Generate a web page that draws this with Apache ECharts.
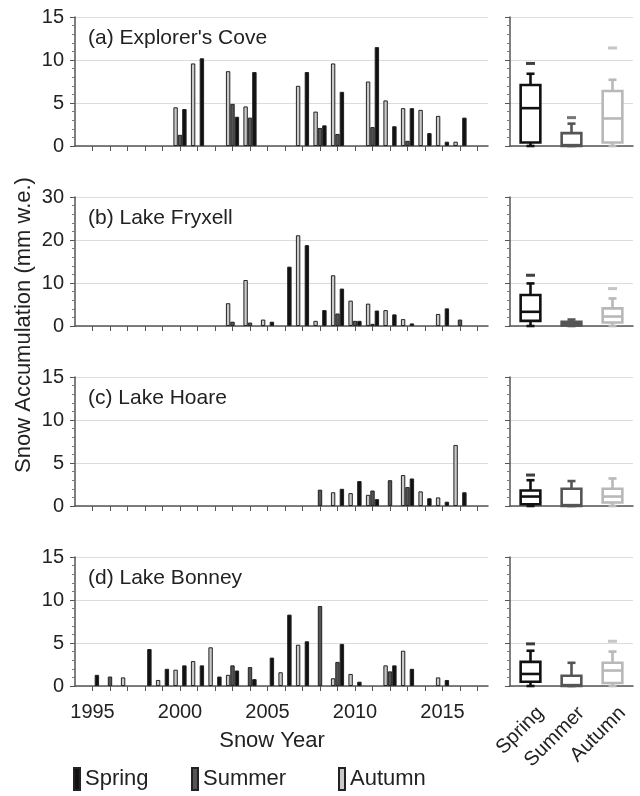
<!DOCTYPE html>
<html>
<head>
<meta charset="utf-8">
<script src="https://cdn.jsdelivr.net/npm/echarts@6/dist/echarts.min.js"></script>
<style>
  html, body { margin: 0; padding: 0; background: #fff; }
  #chart { width: 640px; height: 796px; }
</style>
</head>
<body>
<div id="chart"></div>
<script>
var years = [1995, 1996, 1997, 1998, 1999, 2000, 2001, 2002, 2003, 2004, 2005,
  2006, 2007, 2008, 2009, 2010, 2011, 2012, 2013, 2014, 2015, 2016];
var yearTicks = years.concat([2017]);
var yearLabels = [1995, 2000, 2005, 2010, 2015];
var seasons = ['Spring', 'Summer', 'Autumn'];
var sites = ["(a) Explorer's Cove", '(b) Lake Fryxell', '(c) Lake Hoare', '(d) Lake Bonney'];
var yMax = [15, 30, 15, 15];

// one value per snow year (1995 .. 2016), null = no data
var coveSpring = [null, null, null, null, null, 4.3, 10.2, null, 3.4, 8.6, null, null, 8.6, 2.4, 6.3, null, 11.5, 2.3, 4.4, 1.5, 0.5, 3.3];
var coveSummer = [null, null, null, null, null, 1.3, null, null, 4.9, 3.3, null, null, null, 2.1, 1.4, null, 2.2, null, 0.6, null, null, null];
var coveAutumn = [null, null, null, null, null, 4.5, 9.6, null, 8.7, 4.6, null, null, 7.0, 4.0, 9.6, null, 7.5, 5.3, 4.4, 4.2, 3.5, 0.5];

var fryxellSpring = [null, null, null, null, null, null, null, null, null, null, 1.0, 13.8, 18.8, 3.7, 8.7, 1.2, 3.6, 2.7, 0.6, null, 4.1, null];
var fryxellSummer = [null, null, null, null, null, null, null, null, 1.0, 0.8, null, null, null, null, 2.9, 1.2, 0.5, null, null, null, null, 1.5];
var fryxellAutumn = [null, null, null, null, null, null, null, null, 5.3, 10.7, 1.5, null, 21.1, 1.2, 11.8, 5.9, 5.2, 3.7, 1.6, null, 2.8, null];

var hoareSpring = [null, null, null, null, null, null, null, null, null, null, null, null, null, null, 2.0, 2.9, 0.8, null, 3.2, 0.9, 0.5, 1.6];
var hoareSummer = [null, null, null, null, null, null, null, null, null, null, null, null, null, 1.9, null, null, 1.8, 3.0, 2.2, null, null, null];
var hoareAutumn = [null, null, null, null, null, null, null, null, null, null, null, null, null, null, 1.6, 1.5, 1.3, null, 3.6, 1.7, 1.0, 7.1];

var bonneySpring = [1.3, null, null, 4.3, 2.0, 2.4, 2.4, 1.1, 1.8, 0.8, 3.3, 8.3, 5.2, null, 4.9, 0.5, null, 2.4, 2.0, null, 0.7, null];
var bonneySummer = [null, 1.1, null, null, null, null, null, null, 2.4, 2.2, null, null, null, 9.3, 2.8, null, null, 1.7, null, null, null, null];
var bonneyAutumn = [null, null, 1.0, null, 0.7, 1.9, 2.9, 4.5, 1.3, null, null, 1.6, 4.8, null, 0.9, 1.4, null, 2.4, 4.1, null, 1.0, null];

// box plots: [min, q1, median, q3, max] for Spring, Summer, Autumn
var coveBox = [[0, 0.4, 4.4, 7.1, 8.4], [0, 0, 0.1, 1.5, 2.6], [0, 0.4, 3.2, 6.4, 7.7]];
var fryxellBox = [[0, 1.2, 3.3, 7.2, 9.9], [0, 0.1, 0.5, 1.0, 1.5], [0, 0.8, 2.2, 4.1, 6.4]];
var hoareBox = [[0, 0.2, 1.1, 1.8, 3.0], [0, 0, 0.1, 2.0, 2.9], [0, 0.4, 1.1, 2.0, 3.2]];
var bonneyBox = [[0, 0.5, 1.4, 2.8, 4.1], [0, 0, 0.1, 1.2, 2.7], [0, 0.35, 1.8, 2.7, 4.0]];

// separate max markers above the whiskers
var coveMax = [9.6, 3.3, 11.4];
var fryxellMax = [11.8, null, 8.7];
var hoareMax = [3.6, null, null];
var bonneyMax = [4.9, null, 5.2];

var siteData = [
  [coveSpring, coveSummer, coveAutumn],
  [fryxellSpring, fryxellSummer, fryxellAutumn],
  [hoareSpring, hoareSummer, hoareAutumn],
  [bonneySpring, bonneySummer, bonneyAutumn]
];
var siteBox = [coveBox, fryxellBox, hoareBox, bonneyBox];
var siteMax = [coveMax, fryxellMax, hoareMax, bonneyMax];

var FONT = 'Liberation Sans, Arial, sans-serif';
var barColors = ['#111111', '#555555', '#c8c8c8'];
var boxColors = ['#111111', '#555555', '#b8b8b8'];
var tops = [17, 197, 377, 557];
var panelH = 129;

function toPairs(vals) {
  var out = [];
  for (var i = 0; i < years.length; i++) {
    if (vals[i] != null) {
      out.push([years[i], vals[i]]);
    }
  }
  return out;
}

function renderBox(params, api) {
  var cat = api.value(0);
  var color = boxColors[cat];
  var pMin = api.coord([cat, api.value(1)]);
  var pQ1 = api.coord([cat, api.value(2)]);
  var pMed = api.coord([cat, api.value(3)]);
  var pQ3 = api.coord([cat, api.value(4)]);
  var pMax = api.coord([cat, api.value(5)]);
  var hw = api.size([1, 0])[0] * 0.24;
  var cw = 4;
  var x = pMed[0];
  var st = { stroke: color, lineWidth: 2.6, fill: null };
  return {
    type: 'group',
    children: [
      { type: 'line', shape: { x1: x, y1: pMax[1], x2: x, y2: pQ3[1] }, style: st },
      { type: 'line', shape: { x1: x, y1: pQ1[1], x2: x, y2: pMin[1] }, style: st },
      { type: 'line', shape: { x1: x - cw, y1: pMax[1], x2: x + cw, y2: pMax[1] }, style: st },
      { type: 'line', shape: { x1: x - cw, y1: pMin[1], x2: x + cw, y2: pMin[1] }, style: st },
      { type: 'rect', shape: { x: x - hw, y: pQ3[1], width: 2 * hw, height: Math.max(pQ1[1] - pQ3[1], 1) },
        style: { stroke: color, lineWidth: 2.6, fill: '#fff' } },
      { type: 'line', shape: { x1: x - hw, y1: pMed[1], x2: x + hw, y2: pMed[1] }, style: st }
    ]
  };
}

var grids = [], xAxes = [], yAxes = [], titles = [], series = [];

for (var i = 0; i < 4; i++) {
  grids.push({ left: 75, width: 413, top: tops[i], height: panelH });
  grids.push({ left: 510, width: 123, top: tops[i], height: panelH });

  titles.push({
    text: sites[i], left: 83, top: tops[i] + 6,
    textStyle: { fontFamily: FONT, fontSize: 21, fontWeight: 'normal', color: '#222' }
  });
}

for (var i = 0; i < 4; i++) {
  var last = i === 3;
  xAxes.push({
    type: 'value', gridIndex: 2 * i, min: 1994, max: 2017.6,
    axisLine: { lineStyle: { color: '#555', width: 1.5 } },
    axisTick: { show: true, length: 5, customValues: yearTicks, lineStyle: { color: '#555' } },
    axisLabel: {
      show: last, customValues: yearLabels, margin: 16,
      formatter: function (v) { return String(v); },
      fontFamily: FONT, fontSize: 20, color: '#222'
    },
    splitLine: { show: false }
  });
  yAxes.push({
    type: 'value', gridIndex: 2 * i, min: 0, max: yMax[i], interval: yMax[i] / 3,
    axisLine: { show: true, lineStyle: { color: '#555', width: 1.5 } },
    axisTick: { show: true, length: 5, lineStyle: { color: '#555' } },
    minorTick: { show: true, splitNumber: 5, length: 3, lineStyle: { color: '#777' } },
    axisLabel: { margin: 11, fontFamily: FONT, fontSize: 20, color: '#222' },
    splitLine: { lineStyle: { color: '#dcdcdc' } }
  });
}

for (var i = 0; i < 4; i++) {
  var last = i === 3;
  xAxes.push({
    type: 'category', gridIndex: 2 * i + 1, data: seasons,
    axisLine: { lineStyle: { color: '#555', width: 1.5 } },
    axisTick: { show: false },
    axisLabel: {
      show: last, rotate: 45, margin: 34, padding: [0, -14, 0, 0],
      fontFamily: FONT, fontSize: 20, color: '#222'
    }
  });
  yAxes.push({
    type: 'value', gridIndex: 2 * i + 1, min: 0, max: yMax[i], interval: yMax[i] / 3,
    axisLine: { show: true, lineStyle: { color: '#555', width: 1.5 } },
    axisTick: { show: true, length: 5, lineStyle: { color: '#555' } },
    minorTick: { show: true, splitNumber: 5, length: 3, lineStyle: { color: '#777' } },
    axisLabel: { show: false },
    splitLine: { lineStyle: { color: '#dcdcdc' } }
  });
}

for (var i = 0; i < 4; i++) {
  // Autumn, Summer, Spring from left to right inside each year
  [2, 1, 0].forEach(function (s) {
    series.push({
      name: seasons[s], type: 'bar', xAxisIndex: i, yAxisIndex: i,
      barWidth: 4.4, barGap: '0%',
      itemStyle: { color: barColors[s], borderColor: '#222', borderWidth: 1 },
      data: toPairs(siteData[i][s])
    });
  });

  var boxRows = [], maxRows = [];
  for (var s = 0; s < 3; s++) {
    boxRows.push([s].concat(siteBox[i][s]));
    if (siteMax[i][s] != null) {
      maxRows.push({ value: [s, siteMax[i][s]], itemStyle: { color: boxColors[s] } });
    }
  }
  series.push({
    type: 'custom', xAxisIndex: 4 + i, yAxisIndex: 4 + i,
    renderItem: renderBox, encode: { x: 0, y: [1, 2, 3, 4, 5] },
    data: boxRows
  });
  series.push({
    type: 'scatter', xAxisIndex: 4 + i, yAxisIndex: 4 + i,
    symbol: 'rect', symbolSize: [9, 3],
    data: maxRows
  });
}

var legendText = { fontFamily: FONT, fontSize: 22, color: '#222' };
var legends = [['Spring', 73], ['Summer', 191], ['Autumn', 338]].map(function (l) {
  return {
    data: [l[0]], left: l[1], top: 767, padding: 0,
    icon: 'rect', itemWidth: 6, itemHeight: 22, selectedMode: false,
    textStyle: legendText
  };
});

var chart = echarts.init(document.getElementById('chart'));
chart.setOption({
  animation: false,
  backgroundColor: '#fff',
  textStyle: { fontFamily: FONT },
  title: titles,
  legend: legends,
  grid: grids,
  xAxis: xAxes,
  yAxis: yAxes,
  series: series,
  graphic: [
    {
      type: 'text', x: 24, y: 325, rotation: Math.PI / 2,
      style: {
        text: 'Snow Accumulation (mm w.e.)', fontFamily: FONT, fontSize: 22,
        fill: '#222', textAlign: 'center', textVerticalAlign: 'middle'
      }
    },
    {
      type: 'text', x: 272, y: 741,
      style: {
        text: 'Snow Year', fontFamily: FONT, fontSize: 22,
        fill: '#222', textAlign: 'center', textVerticalAlign: 'middle'
      }
    }
  ]
});
</script>
</body>
</html>
